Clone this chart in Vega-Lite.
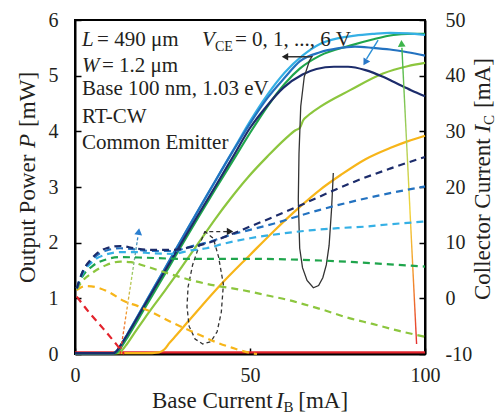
{
  "$schema": "https://vega.github.io/schema/vega-lite/v6.json",
  "width": 350,
  "height": 334,
  "autosize": "none",
  "padding": {"left": 75, "top": 20, "right": 73, "bottom": 60},
  "background": "white",
  "config": {
    "font": "Liberation Serif",
    "view": {"stroke": "#000", "strokeWidth": 2},
    "axis": {"grid": false, "domainColor": "#000", "domainWidth": 2, "tickColor": "#000", "tickWidth": 1.5, "tickSize": -6, "labelFont": "Liberation Serif", "labelFontSize": 20, "labelColor": "#231f20", "title": null},
    "text": {"font": "Liberation Serif", "color": "#231f20"}
  },
  "datasets": {
    "power": [
      {"v":"0","ib":0,"p":0.03},{"v":"0","ib":50,"p":0.03},{"v":"0","ib":100,"p":0.03},
      {"v":"1","ib":0,"p":0.015},{"v":"1","ib":20,"p":0.015},{"v":"1","ib":24,"p":0.03},{"v":"1","ib":25.5,"p":0.08},{"v":"1","ib":27,"p":0.2},{"v":"1","ib":29,"p":0.34},{"v":"1","ib":32,"p":0.56},{"v":"1","ib":36,"p":0.85},{"v":"1","ib":42,"p":1.27},{"v":"1","ib":50,"p":1.78},{"v":"1","ib":57,"p":2.22},{"v":"1","ib":64,"p":2.63},{"v":"1","ib":70,"p":2.95},{"v":"1","ib":76,"p":3.22},{"v":"1","ib":83,"p":3.5},{"v":"1","ib":90,"p":3.7},{"v":"1","ib":95,"p":3.82},{"v":"1","ib":100,"p":3.92},
      {"v":"2","ib":0,"p":0.015},{"v":"2","ib":12,"p":0.015},{"v":"2","ib":13.2,"p":0.05},{"v":"2","ib":14.5,"p":0.15},{"v":"2","ib":17,"p":0.38},{"v":"2","ib":20,"p":0.65},{"v":"2","ib":25,"p":1.08},{"v":"2","ib":28,"p":1.34},{"v":"2","ib":32,"p":1.7},{"v":"2","ib":36,"p":2.06},{"v":"2","ib":40,"p":2.42},{"v":"2","ib":44.3,"p":2.78},{"v":"2","ib":49.5,"p":3.18},{"v":"2","ib":55,"p":3.55},{"v":"2","ib":60,"p":3.86},{"v":"2","ib":63,"p":4.02},{"v":"2","ib":64.2,"p":4.06},{"v":"2","ib":65.2,"p":4.2},{"v":"2","ib":66.5,"p":4.28},{"v":"2","ib":70,"p":4.44},{"v":"2","ib":78.6,"p":4.74},{"v":"2","ib":88,"p":5.04},{"v":"2","ib":95,"p":5.17},{"v":"2","ib":100,"p":5.23},
      {"v":"3","ib":0,"p":0.015},{"v":"3","ib":11.5,"p":0.015},{"v":"3","ib":12.5,"p":0.06},{"v":"3","ib":13.5,"p":0.15},{"v":"3","ib":15,"p":0.3},{"v":"3","ib":20,"p":0.83},{"v":"3","ib":25,"p":1.36},{"v":"3","ib":30,"p":1.9},{"v":"3","ib":35,"p":2.43},{"v":"3","ib":40,"p":2.95},{"v":"3","ib":45,"p":3.46},{"v":"3","ib":50,"p":3.97},{"v":"3","ib":55,"p":4.45},{"v":"3","ib":60,"p":4.86},{"v":"3","ib":64.3,"p":5.13},{"v":"3","ib":70,"p":5.36},{"v":"3","ib":78.6,"p":5.54},{"v":"3","ib":85,"p":5.65},{"v":"3","ib":91,"p":5.73},{"v":"3","ib":95,"p":5.75},{"v":"3","ib":100,"p":5.75},
      {"v":"4","ib":0,"p":0.015},{"v":"4","ib":11,"p":0.015},{"v":"4","ib":12,"p":0.06},{"v":"4","ib":13,"p":0.15},{"v":"4","ib":15,"p":0.36},{"v":"4","ib":20,"p":0.91},{"v":"4","ib":25,"p":1.46},{"v":"4","ib":30,"p":2.01},{"v":"4","ib":35,"p":2.56},{"v":"4","ib":40,"p":3.1},{"v":"4","ib":45,"p":3.64},{"v":"4","ib":50,"p":4.18},{"v":"4","ib":55,"p":4.66},{"v":"4","ib":60,"p":5.06},{"v":"4","ib":65,"p":5.36},{"v":"4","ib":70,"p":5.57},{"v":"4","ib":75,"p":5.67},{"v":"4","ib":80,"p":5.72},{"v":"4","ib":85,"p":5.75},{"v":"4","ib":90,"p":5.77},{"v":"4","ib":95,"p":5.76},{"v":"4","ib":100,"p":5.73},
      {"v":"5","ib":0,"p":0.015},{"v":"5","ib":11,"p":0.015},{"v":"5","ib":12,"p":0.06},{"v":"5","ib":13,"p":0.15},{"v":"5","ib":15,"p":0.36},{"v":"5","ib":20,"p":0.91},{"v":"5","ib":25,"p":1.46},{"v":"5","ib":30,"p":2.01},{"v":"5","ib":35,"p":2.56},{"v":"5","ib":40,"p":3.1},{"v":"5","ib":45,"p":3.63},{"v":"5","ib":50,"p":4.14},{"v":"5","ib":55,"p":4.6},{"v":"5","ib":60,"p":4.97},{"v":"5","ib":64.3,"p":5.26},{"v":"5","ib":70,"p":5.42},{"v":"5","ib":75,"p":5.49},{"v":"5","ib":80,"p":5.52},{"v":"5","ib":85,"p":5.5},{"v":"5","ib":90,"p":5.47},{"v":"5","ib":95,"p":5.42},{"v":"5","ib":100,"p":5.36},
      {"v":"6","ib":0,"p":0.015},{"v":"6","ib":11,"p":0.015},{"v":"6","ib":12,"p":0.06},{"v":"6","ib":13,"p":0.15},{"v":"6","ib":15,"p":0.35},{"v":"6","ib":20,"p":0.89},{"v":"6","ib":25,"p":1.42},{"v":"6","ib":30,"p":1.95},{"v":"6","ib":35,"p":2.48},{"v":"6","ib":40,"p":3.0},{"v":"6","ib":45,"p":3.53},{"v":"6","ib":50,"p":4.06},{"v":"6","ib":55,"p":4.47},{"v":"6","ib":59.5,"p":4.78},{"v":"6","ib":65,"p":5.02},{"v":"6","ib":69,"p":5.12},{"v":"6","ib":74,"p":5.16},{"v":"6","ib":78,"p":5.16},{"v":"6","ib":83,"p":5.1},{"v":"6","ib":88,"p":4.98},{"v":"6","ib":92,"p":4.86},{"v":"6","ib":96,"p":4.74},{"v":"6","ib":100,"p":4.63}
    ],
    "current": [
      {"v":"0","ib":0.5,"ic":0.3},{"v":"0","ib":4,"ic":-2.5},{"v":"0","ib":8,"ic":-5.4},{"v":"0","ib":12,"ic":-8.4},{"v":"0","ib":14,"ic":-10},
      {"v":"1","ib":0.5,"ic":1.5},{"v":"1","ib":3,"ic":2.2},{"v":"1","ib":6,"ic":2.0},{"v":"1","ib":10,"ic":1.0},{"v":"1","ib":14,"ic":-0.5},{"v":"1","ib":18,"ic":-1.4},{"v":"1","ib":22,"ic":-2.5},{"v":"1","ib":26,"ic":-3.8},{"v":"1","ib":30,"ic":-5.0},{"v":"1","ib":35,"ic":-6.4},{"v":"1","ib":40,"ic":-7.8},{"v":"1","ib":45,"ic":-8.9},{"v":"1","ib":50,"ic":-9.8},{"v":"1","ib":52,"ic":-10},
      {"v":"2","ib":0.5,"ic":1.6},{"v":"2","ib":2,"ic":3.0},{"v":"2","ib":5,"ic":4.6},{"v":"2","ib":9,"ic":6.0},{"v":"2","ib":13,"ic":6.6},{"v":"2","ib":16,"ic":6.5},{"v":"2","ib":20,"ic":5.8},{"v":"2","ib":26,"ic":4.6},{"v":"2","ib":33,"ic":3.3},{"v":"2","ib":40,"ic":2.3},{"v":"2","ib":45,"ic":1.8},{"v":"2","ib":50,"ic":1.2},{"v":"2","ib":55,"ic":0.5},{"v":"2","ib":61,"ic":-0.3},{"v":"2","ib":65,"ic":-1.0},{"v":"2","ib":70,"ic":-1.9},{"v":"2","ib":78.6,"ic":-3.6},{"v":"2","ib":85,"ic":-4.6},{"v":"2","ib":92.9,"ic":-5.9},{"v":"2","ib":100,"ic":-6.9},
      {"v":"3","ib":0.5,"ic":1.8},{"v":"3","ib":2,"ic":3.8},{"v":"3","ib":5,"ic":5.8},{"v":"3","ib":9,"ic":7.0},{"v":"3","ib":13,"ic":7.4},{"v":"3","ib":20,"ic":7.3},{"v":"3","ib":30,"ic":7.1},{"v":"3","ib":40,"ic":7.1},{"v":"3","ib":50,"ic":7.1},{"v":"3","ib":60,"ic":7.0},{"v":"3","ib":70,"ic":6.8},{"v":"3","ib":80,"ic":6.5},{"v":"3","ib":90,"ic":6.1},{"v":"3","ib":100,"ic":5.7},
      {"v":"4","ib":0.5,"ic":1.8},{"v":"4","ib":2,"ic":4.2},{"v":"4","ib":5,"ic":6.6},{"v":"4","ib":9,"ic":7.9},{"v":"4","ib":13,"ic":8.3},{"v":"4","ib":17,"ic":8.3},{"v":"4","ib":22,"ic":8.1},{"v":"4","ib":28,"ic":8.0},{"v":"4","ib":33,"ic":8.6},{"v":"4","ib":37.6,"ic":9.0},{"v":"4","ib":42.4,"ic":9.8},{"v":"4","ib":50,"ic":10.8},{"v":"4","ib":60,"ic":11.7},{"v":"4","ib":67,"ic":12.2},{"v":"4","ib":75,"ic":12.6},{"v":"4","ib":83.3,"ic":12.9},{"v":"4","ib":90,"ic":13.3},{"v":"4","ib":100,"ic":13.8},
      {"v":"5","ib":0.5,"ic":1.8},{"v":"5","ib":2,"ic":4.5},{"v":"5","ib":5,"ic":7.0},{"v":"5","ib":9,"ic":8.6},{"v":"5","ib":13,"ic":9.0},{"v":"5","ib":17,"ic":8.8},{"v":"5","ib":22,"ic":8.5},{"v":"5","ib":28,"ic":8.5},{"v":"5","ib":33,"ic":9.3},{"v":"5","ib":37.6,"ic":10.0},{"v":"5","ib":45,"ic":11.5},{"v":"5","ib":50,"ic":12.3},{"v":"5","ib":56.7,"ic":13.4},{"v":"5","ib":64,"ic":14.8},{"v":"5","ib":70,"ic":15.9},{"v":"5","ib":80,"ic":17.5},{"v":"5","ib":90,"ic":18.9},{"v":"5","ib":100,"ic":20.1},
      {"v":"6","ib":0.5,"ic":1.8},{"v":"6","ib":2,"ic":4.5},{"v":"6","ib":5,"ic":7.3},{"v":"6","ib":9,"ic":9.0},{"v":"6","ib":13,"ic":9.4},{"v":"6","ib":17,"ic":9.0},{"v":"6","ib":22,"ic":8.7},{"v":"6","ib":28,"ic":8.7},{"v":"6","ib":33,"ic":9.2},{"v":"6","ib":37.6,"ic":9.9},{"v":"6","ib":45,"ic":11.6},{"v":"6","ib":50,"ic":12.9},{"v":"6","ib":57,"ic":14.7},{"v":"6","ib":64,"ic":16.6},{"v":"6","ib":70,"ic":18.3},{"v":"6","ib":80,"ic":21.0},{"v":"6","ib":90,"ic":23.3},{"v":"6","ib":100,"ic":25.4}
    ],
    "loopS": [
      {"i":0,"ib":60.0,"p":5.34},{"i":1,"ib":67.7,"p":5.34},{"i":2,"ib":67.0,"p":5.27},{"i":3,"ib":65.5,"p":4.98},{"i":4,"ib":64.5,"p":4.45},{"i":5,"ib":64.0,"p":3.6},{"i":6,"ib":63.8,"p":2.77},{"i":7,"ib":64.2,"p":1.9},{"i":8,"ib":65.0,"p":1.55},{"i":9,"ib":66.3,"p":1.32},{"i":10,"ib":68.1,"p":1.19},{"i":11,"ib":69.6,"p":1.23},{"i":12,"ib":70.8,"p":1.37},{"i":13,"ib":71.8,"p":1.6},{"i":14,"ib":72.6,"p":1.95},{"i":15,"ib":73.3,"p":2.6},{"i":16,"ib":73.8,"p":3.25}
    ],
    "loopD": [
      {"i":0,"ib":43.5,"p":2.2},{"i":1,"ib":37.1,"p":2.2},{"i":2,"ib":35.5,"p":1.95},{"i":3,"ib":33.6,"p":1.6},{"i":4,"ib":32.3,"p":1.2},{"i":5,"ib":32.0,"p":0.85},{"i":6,"ib":32.6,"p":0.5},{"i":7,"ib":34.3,"p":0.27},{"i":8,"ib":36.5,"p":0.18},{"i":9,"ib":38.8,"p":0.22},{"i":10,"ib":40.6,"p":0.4},{"i":11,"ib":41.8,"p":0.75},{"i":12,"ib":42.4,"p":1.25},{"i":13,"ib":41.0,"p":1.75},{"i":14,"ib":39.5,"p":2.08},{"i":15,"ib":37.1,"p":2.2}
    ],
    "arrG": [{"i":0,"ib":97.6,"p":0.18},{"i":1,"ib":93.4,"p":5.5}],
    "arrD": [{"i":0,"ib":12.9,"p":0.0},{"i":1,"ib":18.0,"p":2.12}],
    "arrB": [{"i":0,"ib":86.6,"p":5.64},{"i":1,"ib":83.3,"p":5.3}],
    "tN": [{"t":"= 490 μm","ib":6.3,"p":5.53},{"t":"= 1.2 μm","ib":7.7,"p":5.07},{"t":"Base 100 nm, 1.03 eV","ib":2,"p":4.65},{"t":"RT-CW","ib":2,"p":4.15},{"t":"Common Emitter","ib":2,"p":3.68},{"t":"= 0, 1, ..., 6 V","ib":45.7,"p":5.53}],
    "tI": [{"t":"L","ib":2,"p":5.53},{"t":"W","ib":2,"p":5.07},{"t":"V","ib":36.3,"p":5.53}],
    "tS": [{"t":"CE","ib":40.0,"p":5.45}],
    "xN": [{"t":"Base Current","ib":22,"p":-0.97},{"t":"[mA]","ib":63.8,"p":-0.97}],
    "xI": [{"t":"I","ib":57.4,"p":-0.97}],
    "xS": [{"t":"B","ib":59.6,"p":-1.04}],
    "yN": [{"t":"Output Power","ib":-11.43,"p":1.275},{"t":"[mW]","ib":-11.43,"p":4.08},{"t":"Collector Current","ib":118.57,"p":0.97},{"t":"[mA]","ib":118.57,"p":4.42}],
    "yI": [{"t":"P","ib":-11.43,"p":3.7},{"t":"I","ib":118.57,"p":3.977}],
    "yS": [{"t":"C","ib":119.7,"p":4.115}],
    "one": [{"k": 1}]
  },
  "layer": [
    {
      "layer": [
        {
          "data": {"name": "power"},
          "mark": {"type": "line", "strokeWidth": 2.2, "interpolate": "monotone"},
          "encoding": {
            "x": {"field": "ib", "type": "quantitative", "scale": {"domain": [0, 100], "nice": false, "zero": false}, "axis": {"values": [0, 50, 100], "labelFlush": false, "labelPadding": 17, "title": null}},
            "y": {"field": "p", "type": "quantitative", "scale": {"domain": [0, 6], "nice": false}, "axis": {"orient": "left", "values": [0, 1, 2, 3, 4, 5, 6], "labelPadding": 23, "labelExpr": "datum.value + ''", "title": null}},
            "color": {"field": "v", "type": "nominal", "scale": {"domain": ["0","1","2","3","4","5","6"], "range": ["#e3232c","#f7b519","#8cc63e","#1fa54c","#35b0e5","#2372c0","#1c2c6b"]}, "legend": null}
          }
        },
        {
          "data": {"name": "loopS"},
          "mark": {"type": "line", "stroke": "#333", "strokeWidth": 1.3},
          "encoding": {"x": {"field": "ib", "type": "quantitative"}, "y": {"field": "p", "type": "quantitative"}, "order": {"field": "i"}}
        },
        {
          "data": {"name": "loopD"},
          "mark": {"type": "line", "stroke": "#333", "strokeWidth": 1.3, "strokeDash": [4, 3]},
          "encoding": {"x": {"field": "ib", "type": "quantitative"}, "y": {"field": "p", "type": "quantitative"}, "order": {"field": "i"}}
        },
        {
          "data": {"name": "arrG"},
          "mark": {"type": "line", "strokeWidth": 1.4, "stroke": {"gradient": "linear", "x1": 0, "y1": 1, "x2": 0, "y2": 0, "stops": [{"offset": 0, "color": "#e5302f"}, {"offset": 0.25, "color": "#f39a2c"}, {"offset": 0.45, "color": "#f2d43a"}, {"offset": 0.7, "color": "#a8d05a"}, {"offset": 1, "color": "#3db54a"}]}},
          "encoding": {"x": {"field": "ib", "type": "quantitative"}, "y": {"field": "p", "type": "quantitative"}, "order": {"field": "i"}}
        },
        {
          "data": {"name": "arrD"},
          "mark": {"type": "line", "strokeWidth": 1.3, "strokeDash": [3, 2], "stroke": {"gradient": "linear", "x1": 0, "y1": 1, "x2": 0, "y2": 0, "stops": [{"offset": 0, "color": "#e5302f"}, {"offset": 0.35, "color": "#f39a2c"}, {"offset": 0.65, "color": "#a8d05a"}, {"offset": 1, "color": "#2b7fd0"}]}},
          "encoding": {"x": {"field": "ib", "type": "quantitative"}, "y": {"field": "p", "type": "quantitative"}, "order": {"field": "i"}}
        },
        {
          "data": {"name": "arrB"},
          "mark": {"type": "line", "strokeWidth": 1.4, "stroke": "#2b8fd6"},
          "encoding": {"x": {"field": "ib", "type": "quantitative"}, "y": {"field": "p", "type": "quantitative"}, "order": {"field": "i"}}
        },
        {"data": {"name": "one"}, "mark": {"type": "point", "shape": "triangle-up", "filled": true, "size": 60, "color": "#3db54a", "opacity": 1, "angle": -3}, "encoding": {"x": {"datum": 93.3}, "y": {"datum": 5.58}}},
        {"data": {"name": "one"}, "mark": {"type": "point", "shape": "triangle-up", "filled": true, "size": 60, "color": "#2b7fd0", "opacity": 1, "angle": 8}, "encoding": {"x": {"datum": 18.2}, "y": {"datum": 2.2}}},
        {"data": {"name": "one"}, "mark": {"type": "point", "shape": "triangle-up", "filled": true, "size": 60, "color": "#2a78c8", "opacity": 1, "angle": 211}, "encoding": {"x": {"datum": 82.9}, "y": {"datum": 5.24}}},
        {"data": {"name": "one"}, "mark": {"type": "point", "shape": "triangle-left", "filled": true, "size": 55, "color": "#222", "opacity": 1}, "encoding": {"x": {"datum": 60}, "y": {"datum": 5.34}}},
        {"data": {"name": "one"}, "mark": {"type": "point", "shape": "triangle-right", "filled": true, "size": 55, "color": "#222", "opacity": 1}, "encoding": {"x": {"datum": 44.3}, "y": {"datum": 2.2}}},
        {"data": {"name": "tN"}, "mark": {"type": "text", "fontSize": 21, "align": "left", "baseline": "alphabetic"}, "encoding": {"x": {"field": "ib", "type": "quantitative"}, "y": {"field": "p", "type": "quantitative"}, "text": {"field": "t"}}},
        {"data": {"name": "tI"}, "mark": {"type": "text", "fontSize": 21, "fontStyle": "italic", "align": "left", "baseline": "alphabetic"}, "encoding": {"x": {"field": "ib", "type": "quantitative"}, "y": {"field": "p", "type": "quantitative"}, "text": {"field": "t"}}},
        {"data": {"name": "tS"}, "mark": {"type": "text", "fontSize": 14, "align": "left", "baseline": "alphabetic"}, "encoding": {"x": {"field": "ib", "type": "quantitative"}, "y": {"field": "p", "type": "quantitative"}, "text": {"field": "t"}}},
        {"data": {"name": "xN"}, "mark": {"type": "text", "fontSize": 23, "align": "left", "baseline": "alphabetic"}, "encoding": {"x": {"field": "ib", "type": "quantitative"}, "y": {"field": "p", "type": "quantitative"}, "text": {"field": "t"}}},
        {"data": {"name": "xI"}, "mark": {"type": "text", "fontSize": 23, "fontStyle": "italic", "align": "left", "baseline": "alphabetic"}, "encoding": {"x": {"field": "ib", "type": "quantitative"}, "y": {"field": "p", "type": "quantitative"}, "text": {"field": "t"}}},
        {"data": {"name": "xS"}, "mark": {"type": "text", "fontSize": 15, "align": "left", "baseline": "alphabetic"}, "encoding": {"x": {"field": "ib", "type": "quantitative"}, "y": {"field": "p", "type": "quantitative"}, "text": {"field": "t"}}},
        {"data": {"name": "yN"}, "mark": {"type": "text", "fontSize": 23, "angle": 270, "align": "left", "baseline": "alphabetic"}, "encoding": {"x": {"field": "ib", "type": "quantitative"}, "y": {"field": "p", "type": "quantitative"}, "text": {"field": "t"}}},
        {"data": {"name": "yI"}, "mark": {"type": "text", "fontSize": 23, "angle": 270, "fontStyle": "italic", "align": "left", "baseline": "alphabetic"}, "encoding": {"x": {"field": "ib", "type": "quantitative"}, "y": {"field": "p", "type": "quantitative"}, "text": {"field": "t"}}},
        {"data": {"name": "yS"}, "mark": {"type": "text", "fontSize": 15, "angle": 270, "align": "left", "baseline": "alphabetic"}, "encoding": {"x": {"field": "ib", "type": "quantitative"}, "y": {"field": "p", "type": "quantitative"}, "text": {"field": "t"}}}
      ]
    },
    {
      "data": {"name": "current"},
      "mark": {"type": "line", "strokeWidth": 2.2, "strokeDash": [7, 5], "interpolate": "monotone"},
      "encoding": {
        "x": {"field": "ib", "type": "quantitative"},
        "y": {"field": "ic", "type": "quantitative", "scale": {"domain": [-10, 50], "nice": false, "zero": false}, "axis": {"orient": "right", "values": [-10, 0, 10, 20, 30, 40, 50], "labelPadding": 26, "labelExpr": "datum.value + ''", "title": null}},
        "color": {"field": "v", "type": "nominal", "legend": null}
      }
    }
  ],
  "resolve": {"scale": {"y": "independent"}, "axis": {"y": "independent"}}
}
